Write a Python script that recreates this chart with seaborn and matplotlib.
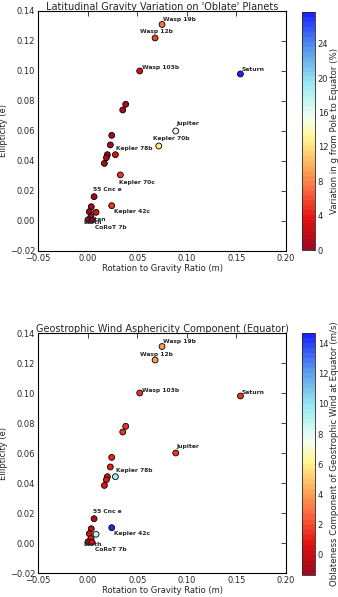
import numpy as np
import pandas as pd
import seaborn as sns
import matplotlib.pyplot as plt
from matplotlib.colors import LinearSegmentedColormap, Normalize
from matplotlib.cm import ScalarMappable

# Planet data
names = ["Wasp 19b", "Wasp 12b", "Wasp 103b", "Saturn", "", "", "Jupiter",
         "Kepler 70b", "", "", "Kepler 78b", "", "", "", "Kepler 70c",
         "55 Cnc e", "Kepler 42c", "", "", "", "Titan", "Earth", "CoRoT 7b"]
m_ratio = [0.075, 0.068, 0.0525, 0.154, 0.0384, 0.0354, 0.0888,
           0.0717, 0.0243, 0.0229, 0.028, 0.0199, 0.0189, 0.0169, 0.033,
           0.0065, 0.0243, 0.0037, 0.0017, 0.0085, 0.0034, 0.0004, 0.0045]
ellip = [0.131, 0.122, 0.100, 0.098, 0.0778, 0.074, 0.060,
         0.050, 0.0571, 0.0507, 0.0442, 0.0442, 0.0422, 0.0384, 0.0307,
         0.0162, 0.0102, 0.0095, 0.0062, 0.0058, 0.0030, 0.0008, 0.0005]
grav_var = [7.0, 5.5, 3.0, 27.7, 1.0, 1.0, 15.5,
            12.5, 0.8, 0.8, 4.0, 0.6, 0.6, 0.6, 5.0,
            0.5, 5.0, 0.5, 0.3, 3.0, 0.2, 0.0, 0.5]
wind = [3.8, 3.8, 1.5, 1.5, 1.5, 1.5, 1.5,
        np.nan, 1.2, 1.2, 9.5, 1.0, 1.0, 1.0, np.nan,
        -0.5, 14.7, 0.0, 0.5, 9.0, 0.8, -1.33, 0.5]

top_ticks = [0, 4, 8, 12, 16, 20, 24]
bottom_ticks = [0, 2, 4, 6, 8, 10, 12, 14]

df = pd.DataFrame({"name": names, "m": m_ratio, "e": ellip,
                   "grav": grav_var, "wind": wind})

# label offsets in pixels (dx, dy)
offsets = {"Wasp 19b": (1, 5), "Wasp 12b": (-15, 6), "Wasp 103b": (2, 3),
           "Saturn": (1, 4), "Jupiter": (1, 7), "Kepler 70b": (-6, 7),
           "Kepler 78b": (1, 6), "Kepler 70c": (-1, -8), "55 Cnc e": (-1, 7),
           "Kepler 42c": (2, -6), "Titan": (-2, -3), "Earth": (-5, -3),
           "CoRoT 7b": (3, -7)}
top_labels = list(offsets.keys())
bottom_labels = ["Wasp 19b", "Wasp 12b", "Wasp 103b", "Saturn", "Jupiter",
                 "Kepler 78b", "55 Cnc e", "Kepler 42c", "Earth", "CoRoT 7b"]

cmap = LinearSegmentedColormap.from_list("gv", [
    (0.00, (0.62, 0.04, 0.12)),
    (0.12, (0.88, 0.06, 0.06)),
    (0.25, (0.98, 0.42, 0.25)),
    (0.35, (0.99, 0.68, 0.35)),
    (0.47, (1.00, 0.97, 0.58)),
    (0.56, (0.94, 1.00, 0.95)),
    (0.70, (0.60, 0.92, 0.95)),
    (0.85, (0.35, 0.60, 0.92)),
    (1.00, (0.10, 0.15, 1.00))], N=48)

sns.set_style("white")
plt.rcParams.update({"xtick.direction": "in", "ytick.direction": "in",
                     "xtick.top": True, "ytick.right": True,
                     "xtick.major.size": 3.5, "ytick.major.size": 3.5,
                     "font.family": ["DejaVu Sans"]})

fig = plt.figure(figsize=(3.38, 5.97), dpi=100)


def panel(rect, crect, col, vmin, vmax, title, clabel, ticks, labels):
    ax = fig.add_axes(rect)
    norm = Normalize(vmin=vmin, vmax=vmax)
    d = df.dropna(subset=[col])
    sns.scatterplot(data=d, x="m", y="e", hue=col, palette=cmap, hue_norm=norm,
                    s=18, edgecolor="black", linewidth=0.6, legend=False, ax=ax)
    for _, r in d.iterrows():
        if r["name"] in labels:
            dx, dy = offsets[r["name"]]
            ax.annotate(r["name"], (r["m"], r["e"]), xytext=(dx, dy),
                        textcoords="offset pixels", fontsize=4.3,
                        fontweight="bold", ha="left", va="center")
    ax.set_xlim(-0.05, 0.20)
    ax.set_ylim(-0.02, 0.14)
    ax.set_xticks([-0.05, 0.0, 0.05, 0.10, 0.15, 0.20])
    ax.set_yticks([-0.02, 0.0, 0.02, 0.04, 0.06, 0.08, 0.10, 0.12, 0.14])
    ax.tick_params(labelsize=6, width=0.6, pad=2)
    for sp in ax.spines.values():
        sp.set_linewidth(0.8)
        sp.set_color("black")
    ax.set_xlabel("Rotation to Gravity Ratio (m)", fontsize=6, labelpad=1)
    ax.set_ylabel("Ellipticity (e)", fontsize=6, labelpad=1)
    ax.set_title(title, fontsize=7, pad=1)
    cax = fig.add_axes(crect)
    cb = fig.colorbar(ScalarMappable(norm=norm, cmap=cmap), cax=cax, ticks=ticks)
    cb.ax.tick_params(labelsize=6, direction="in", width=0.5, length=2, pad=2)
    cb.outline.set_linewidth(0.6)
    cb.set_label(clabel, fontsize=6.2, labelpad=1)


panel([0.1124, 0.5796, 0.734, 0.402], [0.8935, 0.5812, 0.0385, 0.3987], "grav",
      0, 27.7, "Latitudinal Gravity Variation on 'Oblate' Planets",
      "Variation in g from Pole to Equator (%)", top_ticks, top_labels)
panel([0.1124, 0.0402, 0.734, 0.402], [0.8935, 0.0369, 0.0385, 0.4054], "wind",
      -1.33, 14.7, "Geostrophic Wind Asphericity Component (Equator)",
      "Oblateness Component of Geostrophic Wind at Equator (m/s)", bottom_ticks,
      bottom_labels)

plt.savefig("out.png", dpi=100)
